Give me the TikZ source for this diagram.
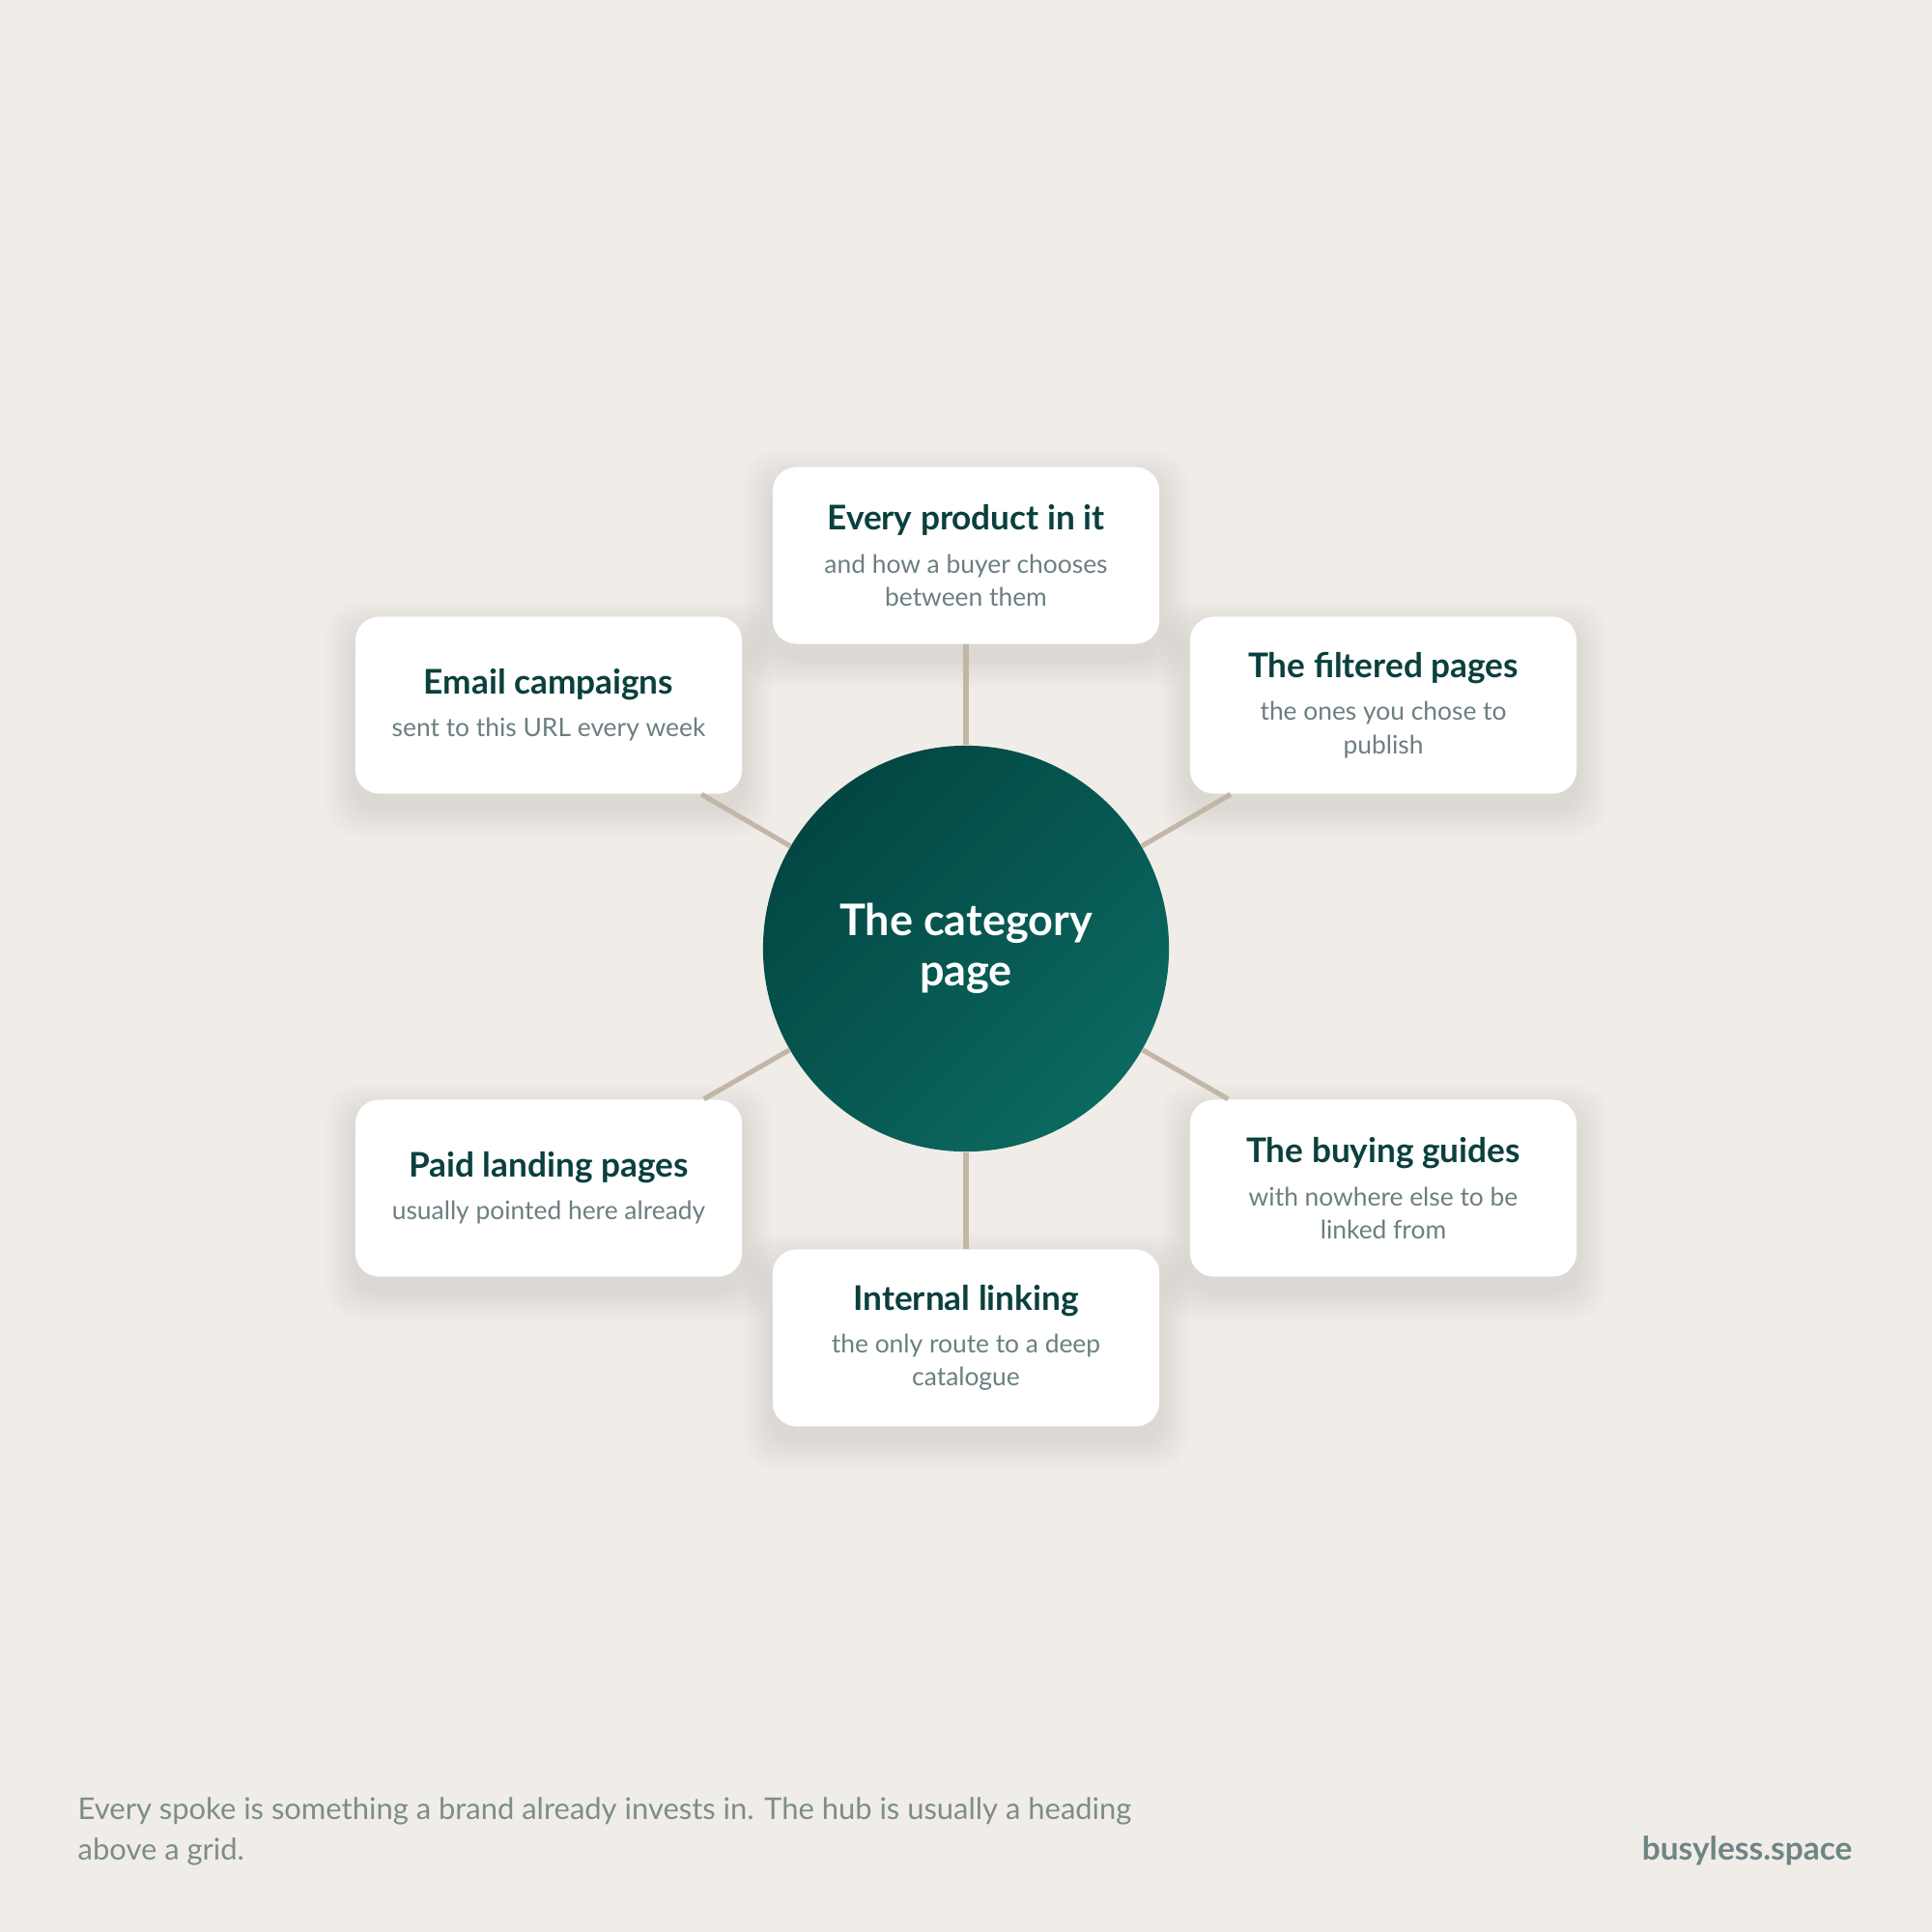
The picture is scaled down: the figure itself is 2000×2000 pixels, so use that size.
\documentclass[tikz,border=0pt]{standalone}
\usepackage{fontspec}
\setmainfont{Lato}
\usetikzlibrary{shapes.geometric,positioning,calc,backgrounds}

\definecolor{bgcol}{HTML}{F0EDE8}
\definecolor{spokecol}{HTML}{C2B7A6}
\definecolor{titlecol}{HTML}{0A403D}
\definecolor{subcol}{HTML}{6B7F80}
\definecolor{hubdark}{HTML}{034643}
\definecolor{hublight}{HTML}{0B6960}
\definecolor{notecol}{HTML}{7D8C8C}
\definecolor{brandcol}{HTML}{6F8585}

\newcommand{\cardtext}[2]{{\fontsize{10}{12}\selectfont\bfseries\color{titlecol}#1}\\[2.9pt]#2}

\tikzstyle{spoke} = [line width=1.45pt, draw=spokecol]
\tikzstyle{card} = [rectangle, rounded corners=7pt, fill=white, minimum width=4cm, minimum height=1.83cm, inner sep=0pt, align=center, text=subcol, font=\fontsize{7.5}{9.7}\selectfont]
\tikzstyle{cardshadow} = [fill=black, opacity=0.007, rounded corners=9pt]
\tikzstyle{hub} = [circle, minimum size=4.2cm, inner sep=0pt, align=center, text=white, font=\fontsize{12.8}{14.8}\selectfont\bfseries, top color=hubdark, bottom color=hublight, shading angle=45]

\begin{document}
\begin{tikzpicture}[x=0.01cm,y=-0.01cm]

% the hub
\node[hub] (hub) at (1000,982) {The category\\page};

% the spokes
\node[card] (product) at (1000,575) {\cardtext{Every product in it}{and how a buyer chooses\\between them}};
\node[card] (email) at (568,730) {\cardtext{Email campaigns}{sent to this URL every week}};
\node[card] (filtered) at (1432,730) {\cardtext{The filtered pages}{the ones you chose to\\publish}};
\node[card] (paid) at (568,1230) {\cardtext{Paid landing pages}{usually pointed here already}};
\node[card] (guides) at (1432,1230) {\cardtext{The buying guides}{with nowhere else to be\\linked from}};
\node[card] (linking) at (1000,1385) {\cardtext{Internal linking}{the only route to a deep\\catalogue}};

\draw [spoke] (hub) -- (product);
\draw [spoke] (hub) -- (email);
\draw [spoke] (hub) -- (filtered);
\draw [spoke] (hub) -- (paid);
\draw [spoke] (hub) -- (guides);
\draw [spoke] (hub) -- (linking);

% page and soft shadows
\begin{pgfonlayer}{background}
\fill[bgcol] (0,0) rectangle (2000,2000);
\foreach \c in {product,email,filtered,paid,guides,linking}
  \foreach \i in {1,...,10}
    \fill[cardshadow] ($(\c.south west)+({-3*\i},{14+3*\i})$) rectangle ($(\c.north east)+({3*\i},{14-3*\i})$);
\end{pgfonlayer}

% footer
\node[anchor=base west, align=left, text=notecol, font=\fontsize{8.8}{11.95}\selectfont, inner sep=0pt] (note) at (80,1925) {Every spoke is something a brand already invests in. The hub is usually a heading\\above a grid.};
\node[anchor=base east, text=brandcol, font=\fontsize{9.5}{11}\selectfont\bfseries, inner sep=0pt] (brand) at (1918,1925) {busyless.space};
\end{tikzpicture}
\end{document}
